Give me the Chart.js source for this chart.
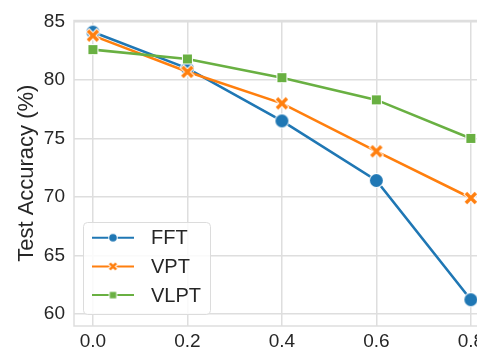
<!DOCTYPE html>
<html lang="en">
<head>
<meta charset="UTF-8">
<title>Test Accuracy</title>
<script src="https://cdn.jsdelivr.net/npm/chart.js"></script>
<style>
  body{ margin:0; overflow:hidden; background:#fff; }
  #wrap{ width:477px; height:350px; }
</style>
</head>
<body>
<div id="wrap"><canvas id="accChart"></canvas></div>
<script>
const ratios = [0.0, 0.2, 0.4, 0.6, 0.8];
const fft  = [84.1, 81.0, 76.5, 71.4, 61.2];
const vpt  = [83.8, 80.7, 78.0, 73.9, 69.9];
const vlpt = [82.6, 81.8, 80.2, 78.3, 75.0];
const yTicks = [60, 65, 70, 75, 80, 85];
const xTicks = [0.0, 0.2, 0.4, 0.6, 0.8];

const FONT = "'Liberation Sans', Arial, sans-serif";
const BLUE = '#1f77b4', ORANGE = '#ff7f0e', GREEN = '#69b042';
const GRID = '#dedede';

// marker images with a white edge, like the seaborn ones
function marker(kind, color, size, w) {
  const c = document.createElement('canvas');
  const d = Math.ceil(size * 2 + 6);
  c.width = c.height = d;
  const g = c.getContext('2d');
  const m = d / 2;
  if (kind === 'circle') {
    g.fillStyle = '#fff'; g.beginPath(); g.arc(m, m, size + 1, 0, Math.PI * 2); g.fill();
    g.fillStyle = color; g.beginPath(); g.arc(m, m, size, 0, Math.PI * 2); g.fill();
  } else if (kind === 'x') {
    [['#fff', w + 2, size + 0.7], [color, w, size]].forEach(([col, lw, r]) => {
      g.strokeStyle = col; g.lineWidth = lw; g.lineCap = 'butt';
      g.beginPath();
      g.moveTo(m - r, m - r); g.lineTo(m + r, m + r);
      g.moveTo(m + r, m - r); g.lineTo(m - r, m + r);
      g.stroke();
    });
  } else {
    g.fillStyle = '#fff'; g.fillRect(m - size - 1, m - size - 1, 2 * size + 2, 2 * size + 2);
    g.fillStyle = color; g.fillRect(m - size, m - size, 2 * size, 2 * size);
  }
  return c;
}

const series = [
  { label: 'FFT',  data: fft,  color: BLUE,   pt: marker('circle', BLUE, 6.5),  lg: marker('circle', BLUE, 3.8) },
  { label: 'VPT',  data: vpt,  color: ORANGE, pt: marker('x', ORANGE, 5, 3.5),  lg: marker('x', ORANGE, 3.2, 2.6) },
  { label: 'VLPT', data: vlpt, color: GREEN,  pt: marker('square', GREEN, 4.5), lg: marker('square', GREEN, 3.2) }
];

// axes frame: top, left, bottom (the right edge is outside the picture)
const frame = {
  id: 'frame',
  beforeDatasetsDraw(chart) {
    const {ctx, chartArea: a} = chart;
    ctx.save();
    ctx.strokeStyle = GRID;
    ctx.lineWidth = 1.5;
    ctx.beginPath();
    ctx.moveTo(a.right + 2, a.top); ctx.lineTo(a.left, a.top);
    ctx.lineTo(a.left, a.bottom); ctx.lineTo(a.right + 2, a.bottom);
    ctx.stroke();
    ctx.restore();
  }
};

const boxLegend = {
  id: 'boxLegend',
  afterDraw(chart) {
    const ctx = chart.ctx;
    ctx.save();
    ctx.fillStyle = 'rgba(255,255,255,0.85)';
    ctx.strokeStyle = '#dcdcdc';
    ctx.lineWidth = 1;
    ctx.beginPath();
    ctx.roundRect(83.5, 222.5, 127, 92, 4);
    ctx.fill();
    ctx.stroke();
    ctx.font = '20px ' + FONT;
    ctx.textBaseline = 'middle';
    series.forEach((s, i) => {
      const y = 237.7 + i * 28.7;
      ctx.strokeStyle = s.color;
      ctx.lineWidth = 2;
      ctx.beginPath(); ctx.moveTo(92, y); ctx.lineTo(134, y); ctx.stroke();
      ctx.drawImage(s.lg, 113 - s.lg.width / 2, y - s.lg.height / 2);
      ctx.fillStyle = '#262626';
      ctx.fillText(s.label, 151, y + 1);
    });
    ctx.restore();
  }
};

new Chart(document.getElementById('accChart'), {
  type: 'line',
  data: {
    datasets: series.map((s, i) => ({
      label: s.label,
      data: ratios.map((x, j) => ({ x: x, y: s.data[j] })),
      borderColor: s.color,
      backgroundColor: s.color,
      borderWidth: 2.6,
      pointStyle: s.pt,
      pointRadius: 7,
      order: 3 - i,
      clip: false,
      tension: 0
    }))
  },
  options: {
    responsive: true,
    maintainAspectRatio: false,
    devicePixelRatio: 1,
    animation: false,
    events: [],
    layout: { autoPadding: false, padding: { top: 20, left: 0, right: 0, bottom: 0 } },
    plugins: { legend: { display: false }, tooltip: { enabled: false } },
    scales: {
      x: {
        type: 'linear',
        min: -0.04,
        max: 0.813,
        afterBuildTicks: s => { s.ticks = xTicks.map(v => ({ value: v })); },
        afterFit: s => { s.height = 24; s.paddingLeft = 0; s.paddingRight = 0; },
        grid: { color: GRID, lineWidth: 1.5, drawTicks: false },
        border: { display: false },
        ticks: {
          padding: 4,
          color: '#262626',
          font: { family: FONT, size: 19 },
          maxRotation: 0,
          autoSkip: false,
          callback: v => Number(v).toFixed(1)
        }
      },
      y: {
        min: 58.95,
        max: 85.1,
        afterBuildTicks: s => { s.ticks = yTicks.map(v => ({ value: v })); },
        afterFit: s => { s.width = 74; },
        grid: { color: GRID, lineWidth: 1.5, drawTicks: false },
        border: { display: false },
        ticks: {
          padding: 9,
          color: '#262626',
          font: { family: FONT, size: 19 }
        },
        title: {
          display: true,
          text: 'Test Accuracy (%)',
          color: '#262626',
          font: { family: FONT, size: 22 },
          padding: { top: 14, bottom: 0 }
        }
      }
    }
  },
  plugins: [frame, boxLegend]
});
</script>
</body>
</html>
